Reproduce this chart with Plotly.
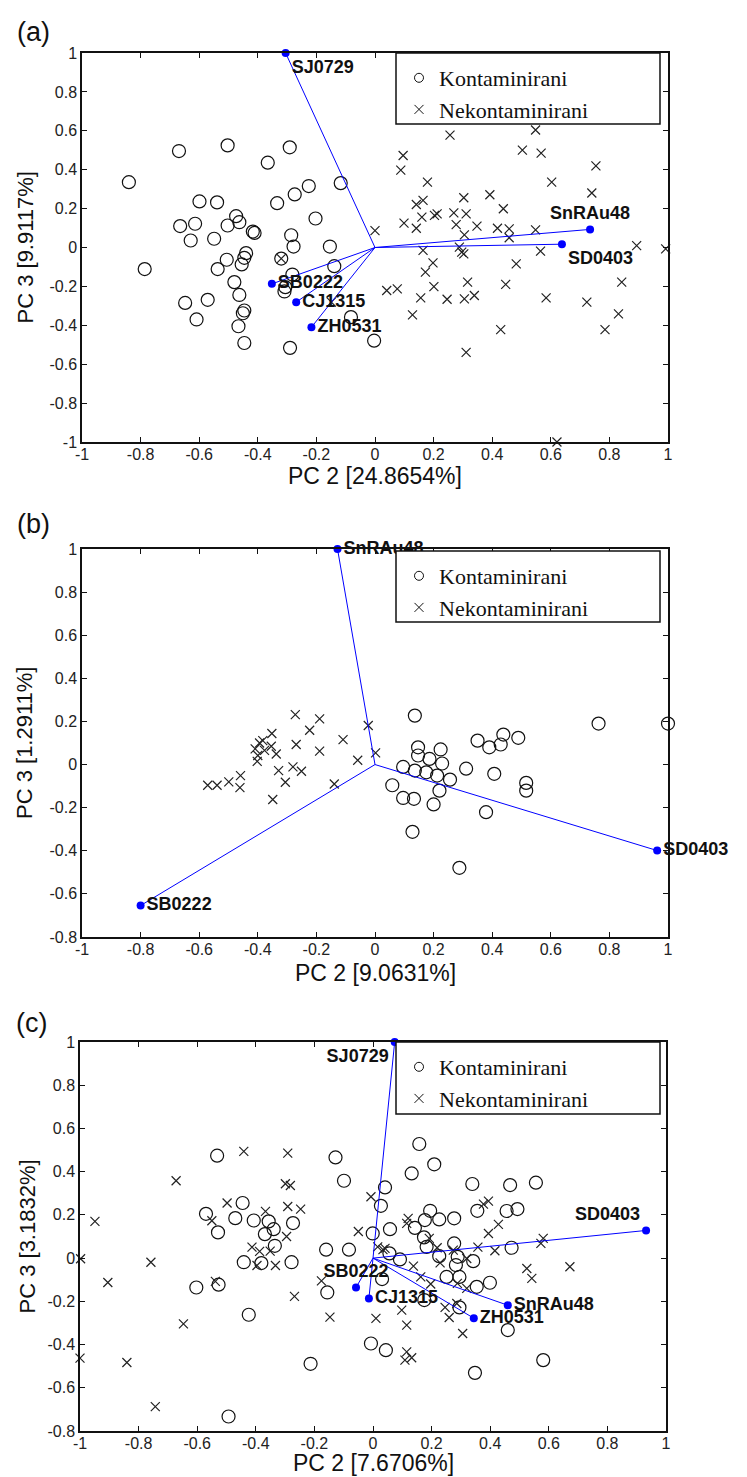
import plotly.graph_objects as go

# ---------------- data ----------------
x_tick_vals = [-1, -0.8, -0.6, -0.4, -0.2, 0, 0.2, 0.4, 0.6, 0.8, 1]
x_tick_text = ["-1", "-0.8", "-0.6", "-0.4", "-0.2", "0", "0.2", "0.4", "0.6", "0.8", "1"]
y_tick_vals_a = [-1, -0.8, -0.6, -0.4, -0.2, 0, 0.2, 0.4, 0.6, 0.8, 1]
y_tick_text_a = ["-1", "-0.8", "-0.6", "-0.4", "-0.2", "0", "0.2", "0.4", "0.6", "0.8", "1"]
y_tick_vals_bc = [-0.8, -0.6, -0.4, -0.2, 0, 0.2, 0.4, 0.6, 0.8, 1]
y_tick_text_bc = ["-0.8", "-0.6", "-0.4", "-0.2", "0", "0.2", "0.4", "0.6", "0.8", "1"]

series_names = ["Kontaminirani", "Nekontaminirani"]
panel_labels = ["(a)", "(b)", "(c)"]
x_titles = ["PC 2 [24.8654%]", "PC 2 [9.0631%]", "PC 2 [7.6706%]"]
y_titles = ["PC 3 [9.9117%]", "PC 3 [1.2911%]", "PC 3 [3.1832%]"]

# Panel (a)
a_kont_x = [-0.84, -0.669, -0.503, -0.291, -0.366, -0.117, -0.599, -0.539, -0.334, -0.274, -0.226, -0.474,
            -0.665, -0.614, -0.503, -0.463, -0.417, -0.411, -0.203, -0.629, -0.549, -0.286, -0.278, -0.154,
            -0.440, -0.446, -0.506, -0.455, -0.537, -0.320, -0.139, -0.786, -0.480, -0.282, -0.306, -0.309,
            -0.463, -0.648, -0.571, -0.446, -0.451, -0.609, -0.466, -0.082, -0.446, -0.290, -0.003]
a_kont_y = [0.336, 0.496, 0.525, 0.515, 0.436, 0.331, 0.237, 0.232, 0.228, 0.273, 0.316, 0.161,
            0.110, 0.122, 0.113, 0.130, 0.082, 0.075, 0.149, 0.036, 0.045, 0.063, 0.005, 0.005,
            -0.029, -0.053, -0.063, -0.087, -0.111, -0.057, -0.096, -0.111, -0.178, -0.139, -0.204, -0.226,
            -0.244, -0.285, -0.269, -0.324, -0.338, -0.370, -0.405, -0.358, -0.491, -0.516, -0.479]
a_nek_x = [0.0, -0.320, -0.149, 0.256, 0.548, 0.503, 0.567, 0.096, 0.088, 0.754, 0.179, 0.603, 0.740, 0.392,
           0.303, 0.141, 0.164, 0.160, 0.212, 0.203, 0.269, 0.311, 0.438, 0.099, 0.141, 0.277, 0.348, 0.305,
           0.418, 0.458, 0.458, 0.548, 0.164, 0.288, 0.296, 0.303, 0.565, 0.893, 0.992, 0.198, 0.172, 0.482,
           0.040, 0.076, 0.201, 0.316, 0.446, 0.842, 0.156, 0.246, 0.305, 0.339, 0.584, 0.723, 0.128, 0.831,
           0.429, 0.785, 0.311, 0.621]
a_nek_y = [0.087, -0.057, -0.281, 0.578, 0.604, 0.501, 0.485, 0.473, 0.398, 0.420, 0.336, 0.336, 0.280, 0.271,
           0.256, 0.221, 0.242, 0.156, 0.173, 0.165, 0.178, 0.173, 0.199, 0.125, 0.099, 0.118, 0.110, 0.065,
           0.099, 0.096, 0.050, 0.091, -0.015, 0.002, -0.024, -0.033, -0.019, 0.010, -0.007, -0.079, -0.127, -0.084,
           -0.221, -0.213, -0.201, -0.178, -0.190, -0.178, -0.259, -0.266, -0.264, -0.247, -0.259, -0.281, -0.346, -0.341,
           -0.422, -0.422, -0.539, -1.0]
a_vec_names = ["SJ0729", "SB0222", "CJ1315", "ZH0531", "SnRAu48", "SD0403"]
a_vec_x = [-0.305, -0.352, -0.269, -0.217, 0.734, 0.638]
a_vec_y = [1.0, -0.187, -0.281, -0.41, 0.093, 0.017]
a_vec_pos = ["bottom right", "middle right", "middle right", "middle right", "top center", "bottom right"]

# Panel (b)
b_kont_x = [0.136, 0.763, 1.0, 0.350, 0.390, 0.438, 0.429, 0.489, 0.147, 0.224, 0.147, 0.186, 0.229, 0.096,
            0.136, 0.175, 0.212, 0.256, 0.311, 0.407, 0.059, 0.096, 0.133, 0.220, 0.200, 0.516, 0.516, 0.379,
            0.128, 0.288]
b_kont_y = [0.227, 0.190, 0.190, 0.111, 0.080, 0.139, 0.093, 0.124, 0.080, 0.070, 0.042, 0.026, 0.005, -0.011,
            -0.028, -0.036, -0.051, -0.070, -0.019, -0.043, -0.096, -0.155, -0.159, -0.121, -0.185, -0.085, -0.121, -0.221,
            -0.312, -0.479]
b_nek_x = [-0.272, -0.189, -0.223, -0.352, -0.383, -0.394, -0.354, -0.409, -0.377, -0.337, -0.400, -0.402, -0.269,
           -0.189, -0.109, -0.023, -0.059, -0.280, -0.251, -0.329, -0.306, -0.349, -0.571, -0.539, -0.499, -0.459,
           -0.461, -0.139, 0.002]
b_nek_y = [0.232, 0.212, 0.159, 0.144, 0.111, 0.100, 0.085, 0.073, 0.066, 0.049, 0.042, 0.015, 0.093,
           0.062, 0.116, 0.181, 0.020, -0.011, -0.031, -0.028, -0.082, -0.162, -0.096, -0.096, -0.080, -0.051,
           -0.107, -0.090, 0.054]
b_vec_names = ["SnRAu48", "SB0222", "SD0403"]
b_vec_x = [-0.128, -0.8, 0.963]
b_vec_y = [1.0, -0.654, -0.399]
b_vec_pos = ["middle right", "middle right", "middle right"]

# Panel (c)
c_kont_x = [-0.532, -0.128, -0.099, -0.445, -0.570, -0.470, -0.529, -0.407, -0.356, -0.273, -0.369, -0.339,
            -0.335, -0.160, -0.082, -0.441, -0.381, -0.278, -0.603, -0.527, -0.156, -0.424, -0.213, -0.493,
            0.158, 0.209, 0.132, 0.339, 0.041, 0.027, 0.356, 0.195, 0.177, 0.226, 0.277, 0.143, 0.058, -0.001,
            0.174, 0.183, 0.277, 0.056, 0.226, 0.289, 0.092, 0.342, 0.283, 0.251, 0.295, 0.399, 0.354, 0.175,
            0.295, -0.007, 0.044, 0.348, 0.468, 0.556, 0.456, 0.493, 0.473, 0.460, 0.581, 0.031]
c_kont_y = [0.474, 0.466, 0.358, 0.255, 0.205, 0.185, 0.119, 0.174, 0.170, 0.162, 0.111, 0.134,
            0.057, 0.039, 0.039, -0.019, -0.023, -0.019, -0.136, -0.123, -0.159, -0.262, -0.489, -0.733,
            0.528, 0.434, 0.392, 0.343, 0.327, 0.242, 0.219, 0.219, 0.176, 0.179, 0.184, 0.140, 0.134, 0.114,
            0.096, 0.052, 0.068, 0.022, 0.009, 0.006, -0.006, -0.014, -0.032, -0.087, -0.087, -0.114, -0.133, -0.194,
            -0.228, -0.395, -0.426, -0.531, 0.338, 0.349, 0.218, 0.227, 0.048, -0.333, -0.472, -0.097]
c_nek_x = [-0.441, -0.291, -0.672, -0.299, -0.282, -0.498, -0.550, -0.367, -0.291, -0.247, -0.295, -0.949,
           -0.998, -0.758, -0.905, -0.413, -0.387, -0.396, -0.333, -0.538, -0.176, -0.268, -0.647, -0.147,
           -1.0, -0.840, -0.743, -0.050, -0.007, 0.010, -0.351,
           0.394, 0.377, 0.120, 0.115, 0.394, 0.016, 0.041, 0.192, 0.219, 0.274, 0.416, 0.138, 0.229,
           0.163, 0.320, 0.288, 0.197, 0.320, 0.246, 0.286, 0.098, 0.260, 0.115, 0.306, 0.115, 0.132, 0.109,
           0.428, 0.581, 0.573, 0.525, 0.542, 0.672, 0.034, 0.358]
c_nek_y = [0.494, 0.486, 0.358, 0.344, 0.336, 0.255, 0.173, 0.216, 0.239, 0.227, 0.100, 0.170,
           -0.003, -0.019, -0.113, 0.051, 0.031, -0.034, -0.034, -0.108, -0.105, -0.177, -0.304, -0.273,
           -0.463, -0.483, -0.687, 0.123, 0.284, -0.279, 0.032,
           0.264, 0.250, 0.184, 0.161, 0.114, 0.052, 0.045, 0.091, 0.048, 0.037, 0.034, -0.037, -0.022,
           -0.087, -0.002, -0.117, -0.120, -0.140, -0.228, -0.210, -0.241, -0.275, -0.310, -0.349, -0.434, -0.461, -0.472,
           0.156, 0.091, 0.068, -0.048, -0.094, -0.040, 0.039, 0.051]
c_vec_names = ["SJ0729", "SB0222", "CJ1315", "ZH0531", "SnRAu48", "SD0403"]
c_vec_x = [0.074, -0.058, -0.014, 0.344, 0.460, 0.932]
c_vec_y = [1.0, -0.136, -0.187, -0.278, -0.218, 0.128]
c_vec_pos = ["bottom left", "top center", "middle right", "middle right", "middle right", "top left"]

# ---------------- figure ----------------
W, H = 747, 1477
OFF = 8  # page body margin of the html page
SANS = "Liberation Sans, Arial, sans-serif"
SERIF = "Liberation Serif, Times New Roman, serif"
BLUE = "#0000ff"


def fx(px):
    return (px - OFF) / W


def fy(py):
    return 1 - (py - OFF) / H


# plot boxes in window pixels: (left, right, top, bottom)
boxes = [(82, 668, 53, 442), (82, 668, 549, 937), (80, 666, 1042, 1431)]
legend_boxes = [(396, 660, 53, 124), (396, 660, 551, 622), (396, 660, 1042, 1114)]
panel_label_pos = [(33, 32), (33, 524), (31, 1023)]
xtitle_y = [476, 973, 1463]
ytitle_x = [25, 25, 27]

panels = [
    (a_kont_x, a_kont_y, a_nek_x, a_nek_y, a_vec_names, a_vec_x, a_vec_y, a_vec_pos),
    (b_kont_x, b_kont_y, b_nek_x, b_nek_y, b_vec_names, b_vec_x, b_vec_y, b_vec_pos),
    (c_kont_x, c_kont_y, c_nek_x, c_nek_y, c_vec_names, c_vec_x, c_vec_y, c_vec_pos),
]

fig = go.Figure()
legend_keys = ["legend", "legend2", "legend3"]

for i, (kx, ky, nx, ny, vn, vx, vy, vp) in enumerate(panels):
    xa = "x" if i == 0 else f"x{i+1}"
    ya = "y" if i == 0 else f"y{i+1}"
    fig.add_trace(go.Scatter(x=kx, y=ky, mode="markers", xaxis=xa, yaxis=ya, showlegend=False,
                             cliponaxis=False,
                             marker=dict(symbol="circle-open", size=13, color="#111",
                                         line=dict(width=1.2, color="#111"))))
    fig.add_trace(go.Scatter(x=nx, y=ny, mode="markers", xaxis=xa, yaxis=ya, showlegend=False,
                             cliponaxis=False,
                             marker=dict(symbol="x-thin-open", size=9, color="#222",
                                         line=dict(width=1.2, color="#222"))))
    lx, ly = [], []
    for a, b in zip(vx, vy):
        lx += [0, a, None]
        ly += [0, b, None]
    fig.add_trace(go.Scatter(x=lx, y=ly, mode="lines", xaxis=xa, yaxis=ya, showlegend=False,
                             cliponaxis=False, line=dict(color=BLUE, width=1)))
    fig.add_trace(go.Scatter(x=vx, y=vy, mode="markers+text", text=vn, textposition=vp,
                             xaxis=xa, yaxis=ya, showlegend=False, cliponaxis=False,
                             marker=dict(symbol="circle", size=8, color=BLUE),
                             textfont=dict(family=SANS, size=18, color="#111", weight="bold")))
    fig.add_trace(go.Scatter(x=[None], y=[None], mode="markers", name=series_names[0], xaxis=xa, yaxis=ya,
                             legend=legend_keys[i],
                             marker=dict(symbol="circle-open", size=9, color="#111",
                                         line=dict(width=1, color="#111"))))
    fig.add_trace(go.Scatter(x=[None], y=[None], mode="markers", name=series_names[1], xaxis=xa, yaxis=ya,
                             legend=legend_keys[i],
                             marker=dict(symbol="x-thin-open", size=9, color="#111",
                                         line=dict(width=1, color="#111"))))

layout = dict(width=W, height=H, margin=dict(l=0, r=0, t=0, b=0, autoexpand=False),
              paper_bgcolor="white", plot_bgcolor="white", showlegend=True)

shapes = []
annotations = []
for i, (l, r, t, b) in enumerate(boxes):
    xk = "xaxis" if i == 0 else f"xaxis{i+1}"
    yk = "yaxis" if i == 0 else f"yaxis{i+1}"
    ya = "y" if i == 0 else f"y{i+1}"
    xa = "x" if i == 0 else f"x{i+1}"
    yv = y_tick_vals_a if i == 0 else y_tick_vals_bc
    yt = y_tick_text_a if i == 0 else y_tick_text_bc
    axis_common = dict(showgrid=False, zeroline=False, showline=True, linecolor="#111", linewidth=1.5,
                       mirror="ticks", ticks="inside", ticklen=5, tickwidth=1.2, tickcolor="#111",
                       automargin=False,
                       tickfont=dict(family=SANS, size=16, color="#222"), tickmode="array")
    layout[xk] = dict(axis_common, domain=[fx(l), fx(r)], range=[-1, 1], anchor=ya,
                      tickvals=x_tick_vals, ticktext=x_tick_text, ticklabelstandoff=-3)
    layout[yk] = dict(axis_common, domain=[fy(b), fy(t)], range=[yv[0], 1], anchor=xa,
                      tickvals=yv, ticktext=yt, ticklabelstandoff=0)
    lb = legend_boxes[i]
    shapes.append(dict(type="rect", xref="paper", yref="paper", x0=fx(lb[0]), x1=fx(lb[1]),
                       y0=fy(lb[3]), y1=fy(lb[2]), line=dict(color="#111", width=1.5),
                       fillcolor="white", layer="above"))
    layout[legend_keys[i]] = dict(x=fx(lb[0] + 3), y=fy(lb[2] + 4), xanchor="left", yanchor="top",
                                  bgcolor="rgba(0,0,0,0)", borderwidth=0,
                                  font=dict(family=SERIF, size=22, color="#111"), tracegroupgap=0)
    px, py = panel_label_pos[i]
    annotations.append(dict(text=panel_labels[i], x=fx(px), y=fy(py), xref="paper", yref="paper",
                            xanchor="center", yanchor="middle", showarrow=False,
                            font=dict(family=SANS, size=27, color="#111")))
    annotations.append(dict(text=x_titles[i], x=fx((l + r) / 2), y=fy(xtitle_y[i]), xref="paper",
                            yref="paper", xanchor="center", yanchor="middle", showarrow=False,
                            font=dict(family=SANS, size=23, color="#111")))
    annotations.append(dict(text=y_titles[i], x=fx(ytitle_x[i]), y=fy((t + b) / 2), xref="paper",
                            yref="paper", xanchor="center", yanchor="middle", showarrow=False,
                            textangle=-90, font=dict(family=SANS, size=22, color="#111")))

layout["shapes"] = shapes
layout["annotations"] = annotations
fig.update_layout(**layout)
fig.write_html("out.html")
